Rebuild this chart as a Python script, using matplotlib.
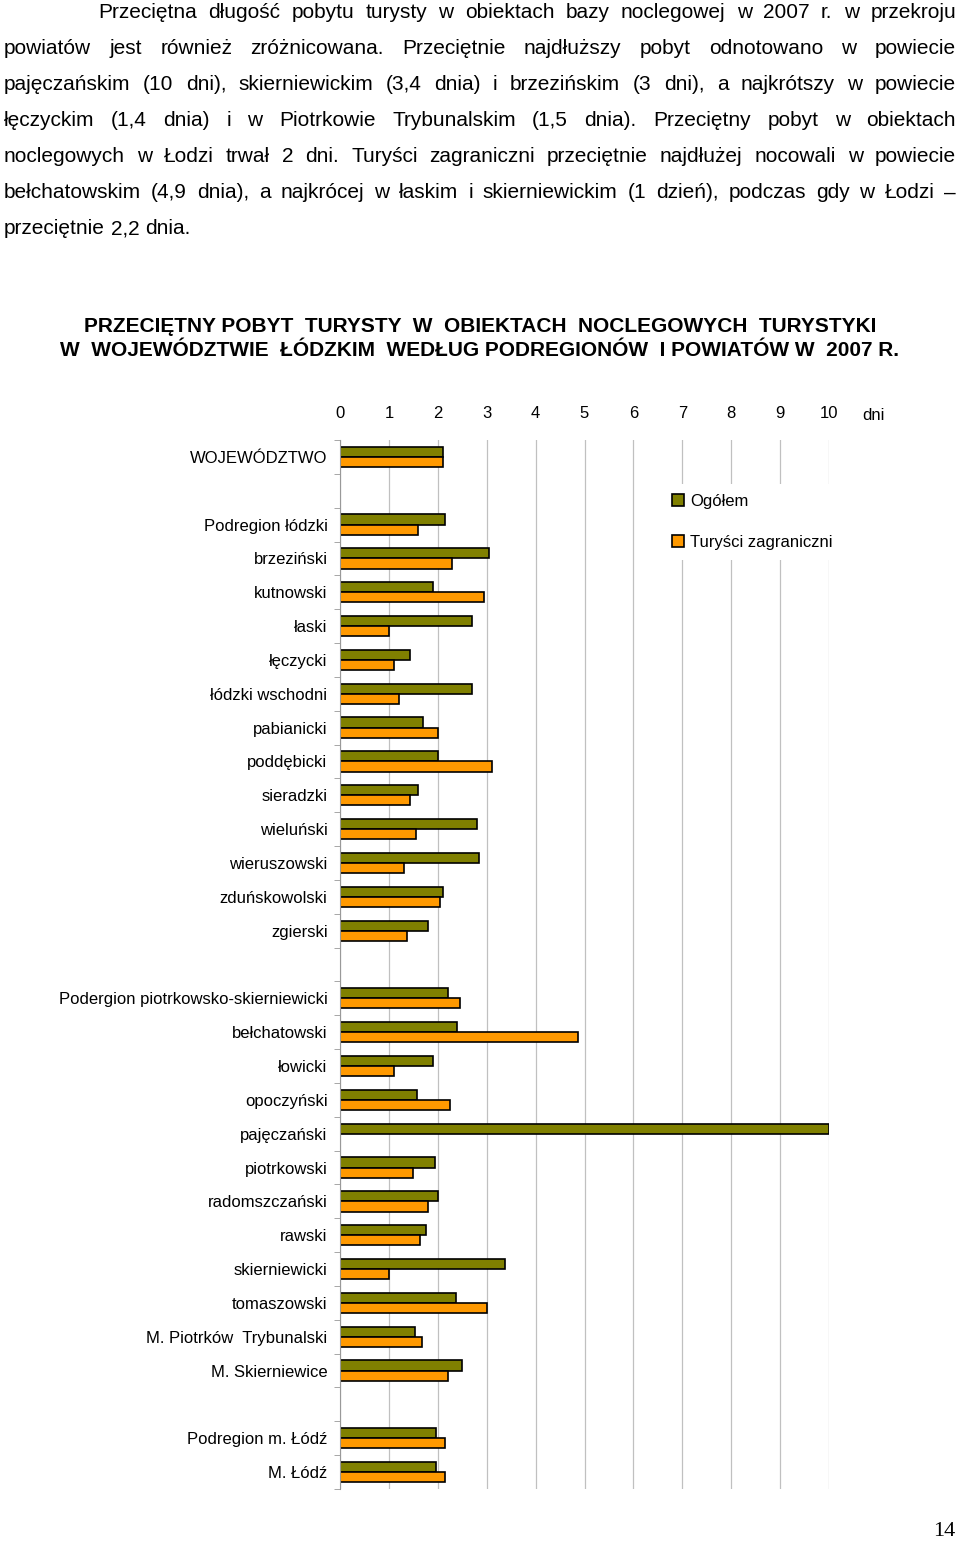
import numpy as np
import matplotlib
matplotlib.use("Agg")
import matplotlib.pyplot as plt

# dane: przeciętny pobyt (dni); '' = pusty wiersz przerwy
categories = [
    "WOJEWÓDZTWO", "",
    "Podregion łódzki", "brzeziński", "kutnowski", "łaski", "łęczycki",
    "łódzki wschodni", "pabianicki", "poddębicki", "sieradzki", "wieluński",
    "wieruszowski", "zduńskowolski", "zgierski", "",
    "Podergion piotrkowsko-skierniewicki", "bełchatowski", "łowicki",
    "opoczyński", "pajęczański", "piotrkowski", "radomszczański", "rawski",
    "skierniewicki", "tomaszowski", "M. Piotrków  Trybunalski",
    "M. Skierniewice", "",
    "Podregion m. Łódź", "M. Łódź",
]
ogolem = [
    2.1, np.nan,
    2.15, 3.05, 1.9, 2.7, 1.43, 2.7, 1.7, 2.0, 1.6, 2.8, 2.85, 2.1, 1.8, np.nan,
    2.2, 2.4, 1.9, 1.57, 10.0, 1.94, 2.0, 1.75, 3.37, 2.37, 1.53, 2.5, np.nan,
    1.96, 1.97,
]
zagraniczni = [
    2.1, np.nan,
    1.6, 2.3, 2.95, 1.0, 1.1, 1.2, 2.0, 3.1, 1.43, 1.55, 1.3, 2.05, 1.37, np.nan,
    2.45, 4.87, 1.1, 2.25, np.nan, 1.5, 1.8, 1.63, 1.0, 3.0, 1.68, 2.2, np.nan,
    2.15, 2.15,
]

paragraph = [
    "Przeciętna długość pobytu turysty w obiektach bazy noclegowej w 2007 r. w przekroju",
    "powiatów jest również zróżnicowana. Przeciętnie najdłuższy pobyt odnotowano w powiecie",
    "pajęczańskim (10 dni), skierniewickim (3,4 dnia) i brzezińskim (3 dni), a najkrótszy w powiecie",
    "łęczyckim (1,4 dnia) i w Piotrkowie Trybunalskim (1,5 dnia). Przeciętny pobyt w obiektach",
    "noclegowych w Łodzi trwał 2 dni. Turyści zagraniczni przeciętnie najdłużej nocowali w powiecie",
    "bełchatowskim (4,9 dnia), a najkrócej w łaskim i skierniewickim (1 dzień), podczas gdy w Łodzi –",
    "przeciętnie 2,2 dnia.",
]
title_lines = [
    "PRZECIĘTNY POBYT  TURYSTY  W  OBIEKTACH  NOCLEGOWYCH  TURYSTYKI",
    "W  WOJEWÓDZTWIE  ŁÓDZKIM  WEDŁUG PODREGIONÓW  I POWIATÓW W  2007 R.",
]

W, H = 960, 1541
plt.rcParams['font.family'] = ['Liberation Sans', 'DejaVu Sans']
fig = plt.figure(figsize=(W / 100, H / 100), dpi=100)
fig.patch.set_facecolor('white')
renderer = fig.canvas.get_renderer()


def justify(line, y, x0, x1, last=False, size=15):
    words = line.split()
    texts = [fig.text(0, 1 - y / H, w, fontsize=size, va='center') for w in words]
    widths = [t.get_window_extent(renderer).width for t in texts]
    if last or len(words) == 1:
        gap = 0.278 * size * 100 / 72
    else:
        gap = (x1 - x0 - sum(widths)) / (len(words) - 1)
    x = x0
    for t, w in zip(texts, widths):
        t.set_x(x / W)
        x += w + gap


line_y = [12, 48, 84, 120, 156, 193, 229]
for i, (line, y) in enumerate(zip(paragraph, line_y)):
    x0 = 98 if i == 0 else 4
    justify(line, y, x0, 956, last=(i == len(paragraph) - 1))

fig.text(0.5, 1 - 327 / H, title_lines[0], ha='center', va='center',
         fontsize=15, fontweight='bold')
fig.text(0.5, 1 - 351 / H, title_lines[1], ha='center', va='center',
         fontsize=15, fontweight='bold')

# wykres
ax = fig.add_axes([340 / W, 1 - 1489 / H, (829 - 340) / W, (1489 - 440) / H])
pos = np.arange(len(categories))
ax.barh(pos - 0.15, ogolem, height=0.3, color='#808000', edgecolor='black',
        linewidth=1.2, label='Ogółem')
ax.barh(pos + 0.15, zagraniczni, height=0.3, color='#FF9900', edgecolor='black',
        linewidth=1.2, label='Turyści zagraniczni')

ax.set_xlim(0, 10)
ax.set_ylim(len(categories) - 0.5, -0.5)
ax.xaxis.tick_top()
ax.set_xticks(range(11))
ax.tick_params(axis='x', length=0, pad=14, labelsize=12)
ax.set_yticks(pos, categories)
ax.tick_params(axis='y', which='major', length=0, pad=9, labelsize=12)
ax.set_yticks(np.arange(-0.5, len(categories)), minor=True)
ax.tick_params(axis='y', which='minor', length=4, color='#999999')
ax.grid(axis='x', color='#c0c0c0', linewidth=0.9)
ax.set_axisbelow(True)
for s in ['top', 'right', 'bottom']:
    ax.spines[s].set_visible(False)
ax.spines['left'].set_color('#999999')

fig.text(873 / W, 1 - 415 / H, "dni", ha='center', va='center', fontsize=12)

leg = ax.legend(loc='upper left', bbox_to_anchor=((662 - 340) / 489, 1 - (484 - 440) / 1049),
                frameon=True, facecolor='white', edgecolor='none', framealpha=1,
                fontsize=12, handlelength=0.7, handleheight=0.7, handletextpad=0.4,
                labelspacing=1.55, borderaxespad=0, borderpad=0.6)

fig.text(944 / W, 1 - 1531 / H, "14", ha='center', va='center', fontsize=16,
         family='Liberation Serif')

fig.savefig("out.png", dpi=100)
